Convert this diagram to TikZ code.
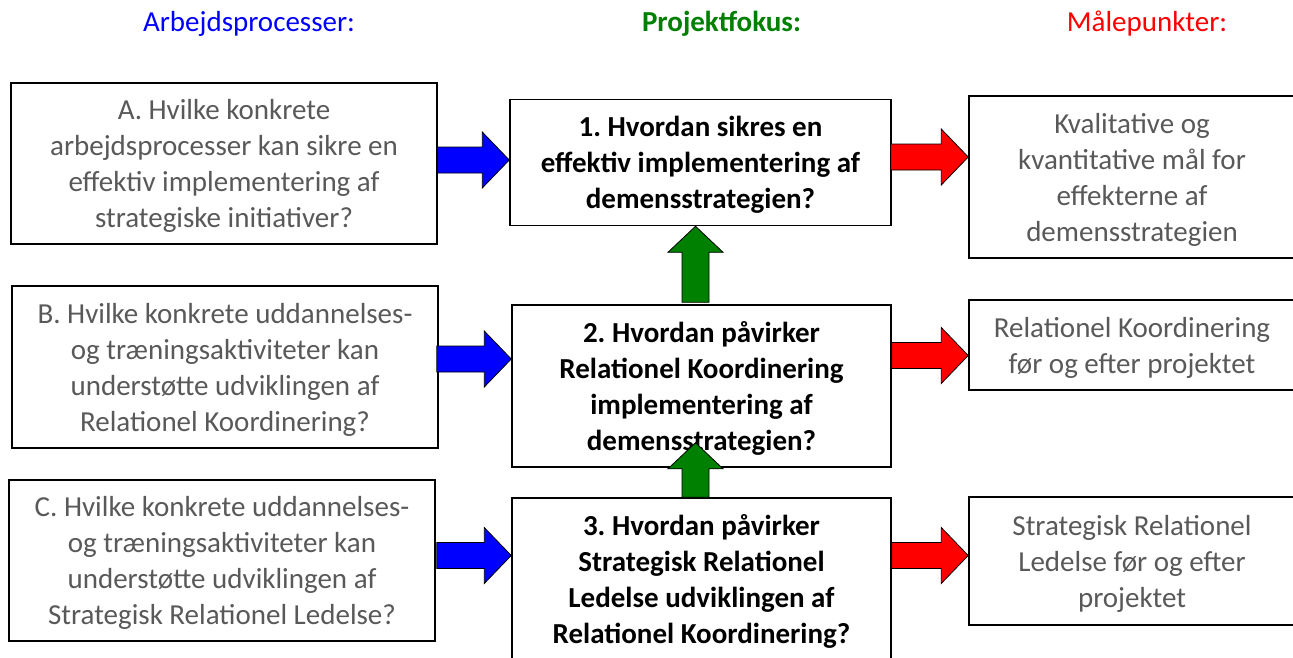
\documentclass[tikz,border=0pt]{standalone}
\usepackage{fontspec}
\setmainfont{Carlito}
\usetikzlibrary{calc}
\definecolor{txtgray}{HTML}{595959}
\definecolor{wgreen}{HTML}{008000}
\frenchspacing
\newcommand{\myTop}{\rule{0pt}{28pt}}
\newcommand{\myBot}{\rule[-8pt]{0pt}{8pt}}
\begin{document}
\begin{tikzpicture}[x=1pt,y=-1pt,
  box/.style={draw=black, line width=1.5pt, fill=white, inner sep=0pt, align=center,
    font=\fontsize{29}{36}\selectfont\frenchspacing},
  qbox/.style={box, text=txtgray},
  fbox/.style={box, font=\fontsize{29}{36}\selectfont\bfseries\frenchspacing},
  hdr/.style={anchor=base, font=\fontsize{29}{35}\selectfont},
  blk/.style={draw=black, line width=0.8pt, to path={let \p1=(\tikztostart), \p2=(\tikztotarget) in
    (\x1,\y1+13pt) -- (\x2-27pt,\y1+13pt) -- (\x2-27pt,\y1+28pt) -- (\x2,\y1)
    -- (\x2-27pt,\y1-28pt) -- (\x2-27pt,\y1-13pt) -- (\x1,\y1-13pt) -- cycle}},
  upblk/.style={draw=black, line width=0.8pt, to path={let \p1=(\tikztostart), \p2=(\tikztotarget) in
    (\x1-13.5pt,\y1) -- (\x1-13.5pt,\y2-26pt) -- (\x1-27.5pt,\y2-26pt) -- (\x1,\y2)
    -- (\x1+27.5pt,\y2-26pt) -- (\x1+13.5pt,\y2-26pt) -- (\x1+13.5pt,\y1) -- cycle}},
]
\useasboundingbox (0,0) rectangle (1293,657);
\clip (0,0) rectangle (1293,657);
\fill[white] (0,0) rectangle (1293,657);

% headers
\node[hdr, text=blue] (h1) at (249,31) {Arbejdsprocesser:};
\node[hdr, text=wgreen, font=\fontsize{29}{35}\selectfont\bfseries] (h2) at (721.5,31) {Projektfokus:};
\node[hdr, text=red] (h3) at (1147,31) {Målepunkter:};

% left boxes
\node[qbox, minimum width=426, minimum height=161] (A) at (224,163.5)
  {\myTop A. Hvilke konkrete\\arbejdsprocesser kan sikre en\\effektiv implementering af\\strategiske initiativer?\myBot};
\node[qbox, minimum width=426, minimum height=162] (B) at (225,367)
  {\myTop B. Hvilke konkrete uddannelses-\\og træningsaktiviteter kan\\understøtte udviklingen af\\Relationel Koordinering?\myBot};
\node[qbox, minimum width=426, minimum height=161] (C) at (222,560.5)
  {\myTop C. Hvilke konkrete uddannelses-\\og træningsaktiviteter kan\\understøtte udviklingen af\\Strategisk Relationel Ledelse?\myBot};

% center boxes
\node[fbox, minimum width=381, minimum height=126] (n1) at (700.5,162.5)
  {\myTop 1. Hvordan sikres en\\effektiv implementering af\\demensstrategien?\myBot};
\node[fbox, minimum width=379, minimum height=162] (n2) at (701.5,386)
  {\myTop 2. Hvordan påvirker\\Relationel Koordinering\\implementering af\\demensstrategien?\myBot};
\node[fbox, minimum width=379, minimum height=163] (n3) at (701.5,579.5)
  {\myTop 3. Hvordan påvirker\\Strategisk Relationel\\Ledelse udviklingen af\\Relationel Koordinering?\myBot};

% right boxes
\node[qbox, minimum width=326, minimum height=162] (R1) at (1132,177)
  {\myTop Kvalitative og\\kvantitative mål for\\effekterne af\\demensstrategien\myBot};
\node[qbox, minimum width=326, minimum height=90] (R2) at (1132,345)
  {\myTop Relationel Koordinering\\før og efter projektet\myBot};
\node[qbox, minimum width=326, minimum height=128] (R3) at (1132,561)
  {\myTop Strategisk Relationel\\Ledelse før og efter\\projektet\myBot};

% blue arrows
\draw[blk, fill=blue] ($(A.east)+(0,-3.5)$) to (n1.west);
\draw[blk, fill=blue] ($(B.east)+(-2,-8)$) to (n2.west);
\draw[blk, fill=blue] ($(C.east)+(1,-5)$) to (n3.west);

% red arrows
\draw[blk, fill=red] ($(n1.east)+(-1,-5.5)$) to (R1.west);
\draw[blk, fill=red] ($(n2.east)+(0,-30.5)$) to (R2.west);
\draw[blk, fill=red] ($(n3.east)+(0,-24)$) to (R3.west);

% green arrows
\draw[upblk, fill=wgreen] ($(n2.north)+(-6,-2)$) to (n1.south);
\draw[upblk, fill=wgreen] ($(n3.north)+(-6,0)$) to ($(n2.south)+(0,-25)$);
\end{tikzpicture}
\end{document}
